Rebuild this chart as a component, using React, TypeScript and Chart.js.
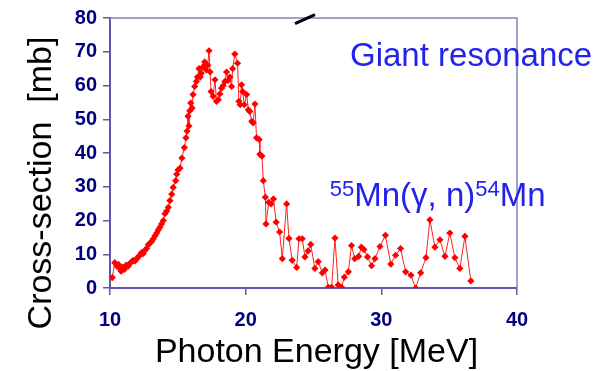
import React, { useEffect, useRef } from "react";
import { Chart, registerables } from "chart.js";

Chart.register(...registerables);

const energies: number[] = [
  10.17, 10.35, 10.5, 10.62, 10.72, 10.82, 10.95, 11.05, 11.2, 11.35, 11.47, 11.6, 11.72, 11.85, 11.97, 12.1,
  12.21, 12.33, 12.45, 12.58, 12.7, 12.82, 12.95, 13.07, 13.19, 13.32, 13.44, 13.56, 13.68, 13.8, 13.93, 14.05,
  14.18, 14.3, 14.42, 14.55, 14.66, 14.84, 14.92, 15.01, 15.16, 15.3, 15.48, 15.6, 15.68, 15.75, 15.82, 15.88,
  15.95, 16.05, 16.12, 16.24, 16.37, 16.45, 16.56, 16.65, 16.73, 16.85, 16.98, 17.1, 17.2, 17.3, 17.38, 17.45,
  17.6, 17.74, 17.85, 17.98, 18.1, 18.22, 18.35, 18.47, 18.59, 18.7, 18.84, 18.96, 19.04, 19.2, 19.4, 19.5,
  19.6, 19.7, 19.78, 19.9, 20.07, 20.2, 20.3, 20.45, 20.55, 20.68, 20.8, 21.0, 21.05, 21.2, 21.3, 21.45,
  21.5, 21.7, 21.87, 22.05, 22.25, 22.5, 22.7, 23.02, 23.19, 23.43, 23.76, 23.93, 24.17, 24.37, 24.6, 24.8,
  25.1, 25.35, 25.65, 25.85, 26.09, 26.34, 26.58, 26.82, 27.07, 27.27, 27.57, 27.8, 28.04, 28.33, 28.53, 28.72,
  28.98, 29.28, 29.53, 29.9, 30.3, 30.7, 31.05, 31.42, 31.79, 32.18, 32.53, 32.9, 33.29, 33.58, 33.95, 34.32,
  34.69, 35.05, 35.42, 35.79, 36.16, 36.6,
];

const crossSections: number[] = [
  3.1, 7.5, 6.5, 7.0, 5.8, 5.0, 6.2, 5.5, 6.8, 6.5, 7.3, 7.8, 8.2, 8.0, 8.7, 9.3,
  9.7, 10.5, 10.2, 11.2, 11.7, 12.8, 13.3, 13.8, 14.6, 15.5, 16.3, 17.2, 18.0, 19.0, 20.0, 22.0,
  22.8, 23.9, 25.9, 27.8, 29.8, 31.8, 33.7, 35.0, 35.5, 38.5, 41.6, 44.5, 46.5, 50.9, 48.0, 52.5,
  54.8, 53.3, 57.3, 59.7, 61.2, 62.5, 65.0, 62.5, 63.6, 65.5, 67.0, 64.6, 66.0, 70.3, 64.0, 58.2,
  56.8, 61.7, 55.3, 55.8, 57.5, 59.2, 60.0, 61.2, 64.0, 61.5, 62.5, 59.7, 65.0, 69.3, 66.6, 55.3,
  54.3, 60.2, 58.2, 54.3, 57.3, 52.8, 52.3, 49.4, 48.9, 54.5, 44.5, 44.0, 39.6, 39.1, 31.8, 26.9,
  19.0, 25.4, 24.9, 26.4, 19.5, 16.6, 8.7, 24.9, 14.7, 8.2, 6.1, 14.6, 14.6, 9.2, 11.0, 12.9,
  5.8, 7.8, 4.5, 5.3, 0.2, 0.2, 14.8, 0.9, 0.2, 3.2, 4.8, 12.6, 8.7, 9.4, 12.1, 11.4,
  9.2, 6.6, 8.7, 12.3, 15.6, 7.1, 9.7, 11.7, 4.8, 3.8, 0.0, 4.5, 9.0, 20.2, 12.1, 14.3,
  9.4, 16.3, 9.0, 5.8, 15.3, 2.1,
];

const xTicks: number[] = [10, 20, 30, 40];
const yTicks: number[] = [0, 10, 20, 30, 40, 50, 60, 70, 80];

const xTitle = "Photon Energy [MeV]";
const yTitle = "Cross-section  [mb]";
const note1 = "Giant resonance";
const note2Parts: { t: string; sup: boolean }[] = [
  { t: "55", sup: true },
  { t: "Mn(\u03b3, n)", sup: false },
  { t: "54", sup: true },
  { t: "Mn", sup: false },
];

const FONT = "'Liberation Sans', Arial, sans-serif";

const overlay = {
  id: "overlay",
  afterDraw(chart: any) {
    const { ctx, chartArea, scales } = chart;
    const xs = scales.x;
    const ys = scales.y;
    ctx.save();
    // top & right frame
    ctx.strokeStyle = "#8282c4";
    ctx.lineWidth = 1.5;
    ctx.beginPath();
    ctx.moveTo(chartArea.left, chartArea.top);
    ctx.lineTo(chartArea.right, chartArea.top);
    ctx.lineTo(chartArea.right, chartArea.bottom);
    ctx.stroke();

    // small black stroke near the top
    ctx.strokeStyle = "#000000";
    ctx.lineWidth = 3;
    ctx.beginPath();
    ctx.moveTo(xs.getPixelForValue(23.64), ys.getPixelForValue(78.3));
    ctx.lineTo(xs.getPixelForValue(25.11), ys.getPixelForValue(81.0));
    ctx.stroke();

    // axis titles
    ctx.fillStyle = "#000000";
    ctx.font = `34px ${FONT}`;
    ctx.textAlign = "center";
    ctx.textBaseline = "alphabetic";
    ctx.fillText(xTitle, (chartArea.left + chartArea.right) / 2 + 3, chart.height - 9);
    ctx.save();
    ctx.translate(51, (chartArea.top + chartArea.bottom) / 2 + 30);
    ctx.rotate(-Math.PI / 2);
    ctx.fillText(yTitle, 0, 0);
    ctx.restore();

    // annotations
    ctx.fillStyle = "#2222ee";
    ctx.textAlign = "left";
    ctx.font = `33px ${FONT}`;
    ctx.fillText(note1, xs.getPixelForValue(27.69), ys.getPixelForValue(65.7));

    let px = xs.getPixelForValue(26.2);
    const base = ys.getPixelForValue(24.4);
    for (const p of note2Parts) {
      ctx.font = p.sup ? `22px ${FONT}` : `33px ${FONT}`;
      ctx.fillText(p.t, px, p.sup ? base - 10 : base);
      px += ctx.measureText(p.t).width;
    }
    ctx.restore();
  },
};

export default function App() {
  const ref = useRef<HTMLCanvasElement | null>(null);
  useEffect(() => {
    if (!ref.current) return;
    const points = energies.map((e, i) => ({ x: e, y: crossSections[i] }));
    const tickFont = { family: FONT, size: 20, weight: "bold" as const };
    const chart = new Chart(ref.current, {
      type: "scatter",
      data: {
        datasets: [
          {
            data: points,
            showLine: true,
            borderColor: "#ff2020",
            borderWidth: 1,
            pointStyle: "rectRot",
            pointRadius: 3.6,
            pointBackgroundColor: "#ff0000",
            pointBorderColor: "#ff0000",
            pointBorderWidth: 0,
          },
        ],
      },
      options: {
        animation: false,
        responsive: false,
        layout: { padding: { left: 0, right: 91, top: 16, bottom: 0 } },
        plugins: { legend: { display: false }, tooltip: { enabled: false } },
        scales: {
          x: {
            type: "linear",
            min: 10,
            max: 40,
            afterBuildTicks: (s: any) => {
              s.ticks = xTicks.map((v) => ({ value: v }));
            },
            afterFit: (s: any) => {
              s.height = 83;
            },
            ticks: { font: tickFont, color: "#000080", padding: 13 },
            grid: { drawOnChartArea: false, drawTicks: true, tickLength: 7, color: "#5a5aaa", lineWidth: 1.5 },
            border: { display: true, color: "#5a5aaa", width: 2 },
          },
          y: {
            type: "linear",
            min: 0,
            max: 80,
            afterBuildTicks: (s: any) => {
              s.ticks = yTicks.map((v) => ({ value: v }));
            },
            afterFit: (s: any) => {
              s.width = 110;
            },
            ticks: { font: tickFont, color: "#000080", padding: 6 },
            grid: { drawOnChartArea: false, drawTicks: true, tickLength: 7, color: "#5a5aaa", lineWidth: 1.5 },
            border: { display: true, color: "#5a5aaa", width: 2 },
          },
        },
      },
      plugins: [overlay],
    });
    return () => chart.destroy();
  }, []);
  return (
    <div style={{ position: "fixed", left: 0, top: 0, width: 608, height: 371, background: "#fff" }}>
      <canvas ref={ref} width={608} height={371} style={{ width: 608, height: 371, display: "block" }} />
    </div>
  );
}
